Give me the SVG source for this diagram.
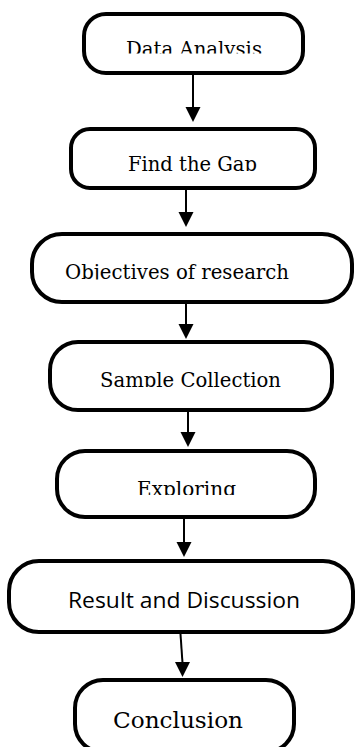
<svg xmlns="http://www.w3.org/2000/svg" width="358" height="747" viewBox="0 0 358 747">
<style>
.box{fill:#fff;stroke:#000;stroke-width:4}
.lbl{font-family:"DejaVu Serif","Liberation Serif",serif;font-size:19.5px;fill:#000}
.sans{font-family:"Open Sans","Liberation Sans",sans-serif;font-size:21px;fill:#000}
.conn{stroke:#000;stroke-width:2;fill:none}
</style>
<defs>
<marker id="ah" markerWidth="8" markerHeight="8" refX="7.5" refY="4" orient="auto" markerUnits="userSpaceOnUse" viewBox="0 0 8 8">
<path d="M0,0 L8,4 L0,8 Z" fill="#000"/>
</marker>
<clipPath id="c1"><rect x="0" y="0" width="358" height="53.5"/></clipPath>
<clipPath id="c2"><rect x="0" y="100" width="358" height="71"/></clipPath>
<clipPath id="c3"><rect x="0" y="240" width="358" height="39.5"/></clipPath>
<clipPath id="c4"><rect x="0" y="350" width="358" height="37"/></clipPath>
<clipPath id="c5"><rect x="0" y="460" width="358" height="35"/></clipPath>
</defs>
<g id="connectors">
<line class="conn" x1="193" y1="75" x2="193" y2="108"/><path d="M185.5,107 L200.5,107 L193,122 Z"/>
<line class="conn" x1="186" y1="190" x2="186" y2="213"/><path d="M178.5,212 L193.5,212 L186,227 Z"/>
<line class="conn" x1="186" y1="304" x2="186" y2="325"/><path d="M178.5,324 L193.5,324 L186,339 Z"/>
<line class="conn" x1="188" y1="412" x2="188" y2="433"/><path d="M180.5,432 L195.5,432 L188,447 Z"/>
<line class="conn" x1="184" y1="519" x2="184" y2="543"/><path d="M176.5,542 L191.5,542 L184,557 Z"/>
<line class="conn" x1="180.5" y1="634" x2="182.5" y2="663"/><path d="M175,662 L190,662 L182.5,677 Z"/>
</g>
<g id="n1"><rect class="box" x="84" y="14" width="219" height="59" rx="22"/><text class="lbl" x="126" y="56" textLength="136" lengthAdjust="spacingAndGlyphs" clip-path="url(#c1)">Data Analysis</text></g>
<g id="n2"><rect class="box" x="71" y="129" width="244" height="59" rx="19"/><text class="lbl" x="128" y="170.5" textLength="129" lengthAdjust="spacingAndGlyphs" clip-path="url(#c2)">Find the Gap</text></g>
<g id="n3"><rect class="box" x="32" y="234" width="320" height="68" rx="30"/><text class="lbl" x="65" y="279" textLength="224" lengthAdjust="spacingAndGlyphs" clip-path="url(#c3)">Objectives of research</text></g>
<g id="n4"><rect class="box" x="50" y="342" width="282" height="68" rx="28"/><text class="lbl" x="100" y="386.5" textLength="181" lengthAdjust="spacingAndGlyphs" clip-path="url(#c4)">Sample Collection</text></g>
<g id="n5"><rect class="box" x="57" y="451" width="258" height="66" rx="28"/><text class="lbl" x="137" y="496" textLength="99" lengthAdjust="spacingAndGlyphs" clip-path="url(#c5)">Exploring</text></g>
<g id="n6"><rect class="box" x="9" y="561" width="344" height="71" rx="30"/><text class="sans" x="68" y="608" textLength="232" lengthAdjust="spacingAndGlyphs">Result and Discussion</text></g>
<g id="n7"><rect class="box" x="75" y="680" width="219" height="72" rx="28"/><text class="lbl" x="113" y="728" textLength="130" lengthAdjust="spacingAndGlyphs" style="font-size:23px">Conclusion</text></g>
</svg>
